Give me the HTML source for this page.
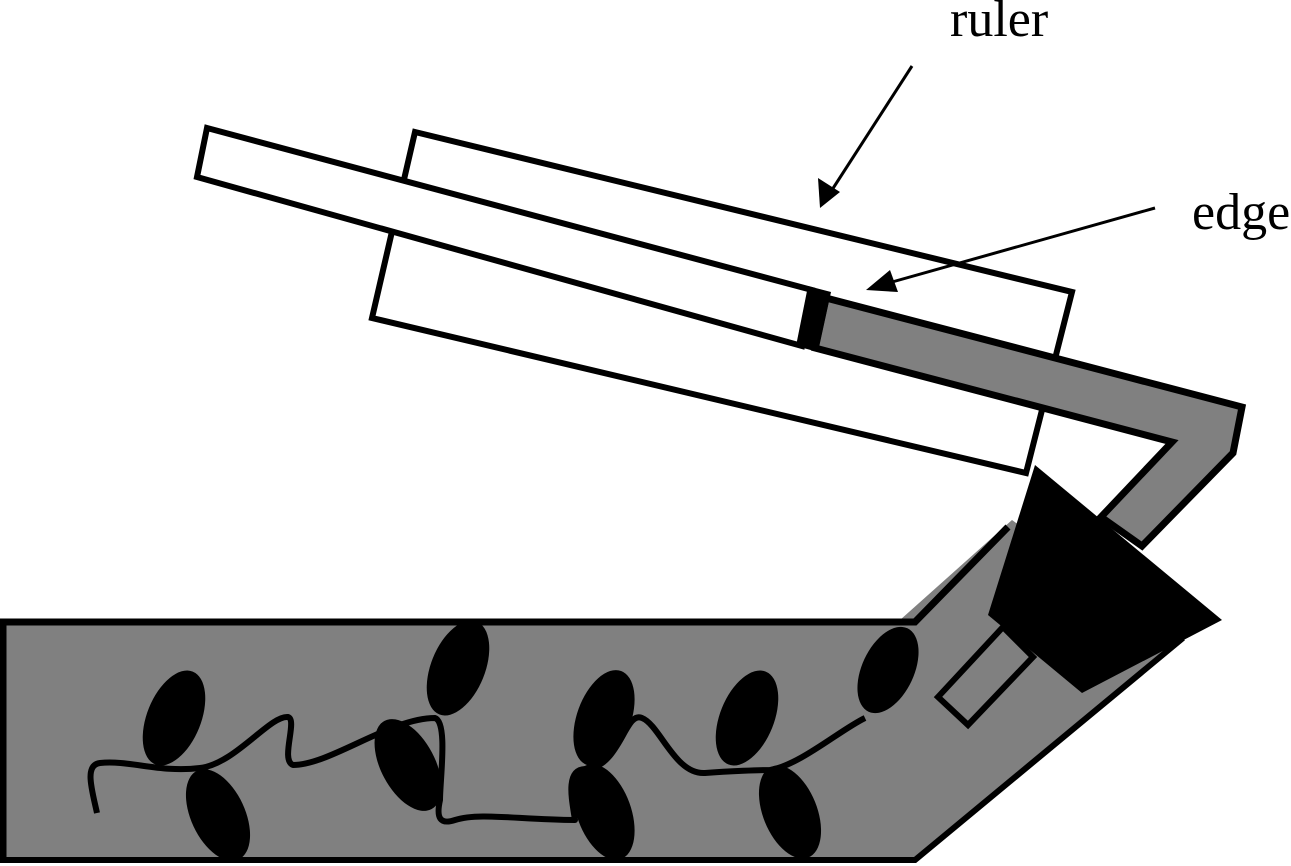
<!DOCTYPE html>
<html><head><meta charset="utf-8"><style>html,body{margin:0;padding:0;background:#fff}svg{display:block}</style></head>
<body>
<svg width="1291" height="866" viewBox="0 0 1291 866" xmlns="http://www.w3.org/2000/svg">
<polygon points="0,620 900,620 1012,520 1180,640 915,862 0,862" fill="#808080"/>
<polyline points="3,862 3,622 915,622 1008,527" fill="none" stroke="#000" stroke-width="7"/>
<polyline points="0,860 915,860 1183,638" fill="none" stroke="#000" stroke-width="6"/>
<polygon points="415,132 1072,292 1026,473 372,318" fill="#fff" stroke="#000" stroke-width="6"/>
<polygon points="207,128 812,290 802,346 197,177" fill="#fff" stroke="#000" stroke-width="6"/>
<polygon points="826,298 1242,407 1233,453 1142,546 1101,517 1172,442 815,348" fill="#808080" stroke="#000" stroke-width="7"/>
<polygon points="808,286 831,292 818,352 796,346" fill="#000"/>
<polygon points="938,697 1003,627 1033,657 968,725" fill="#808080" stroke="#000" stroke-width="6"/>
<polygon points="1035,465 1222,620 1082,693 988,615" fill="#000"/>
<g fill="#000">
<ellipse cx="174" cy="718" rx="27" ry="50" transform="rotate(22 174 718)"/>
<ellipse cx="218" cy="815" rx="27" ry="49" transform="rotate(-25 218 815)"/>
<ellipse cx="458" cy="668" rx="27" ry="50" transform="rotate(22 458 668)"/>
<ellipse cx="408" cy="765" rx="27" ry="50" transform="rotate(-28 408 765)"/>
<ellipse cx="604" cy="718" rx="27" ry="50" transform="rotate(20 604 718)"/>
<ellipse cx="604" cy="812" rx="27" ry="50" transform="rotate(-20 604 812)"/>
<ellipse cx="747" cy="718" rx="27" ry="50" transform="rotate(22 747 718)"/>
<ellipse cx="790" cy="812" rx="27" ry="49" transform="rotate(-22 790 812)"/>
<ellipse cx="888" cy="670" rx="26" ry="46" transform="rotate(25 888 670)"/>
</g>
<path d="M97,813 C92,790 84,765 100,763 C130,760 160,773 200,768 C235,764 270,715 288,717 C298,720 280,760 293,765 C330,765 390,718 435,718 C448,722 440,780 440,800 C436,818 440,825 455,820 C480,812 520,820 575,820 C572,800 565,770 585,769 C620,768 625,710 642,718 C660,725 675,775 705,773 C730,771 760,770 770,770 C800,765 840,730 865,718" fill="none" stroke="#000" stroke-width="6" stroke-linejoin="round"/>
<line x1="912" y1="66" x2="830" y2="193" stroke="#000" stroke-width="3"/>
<polygon points="820,208 818,178 840,192" fill="#000"/>
<line x1="1155" y1="208" x2="885" y2="284" stroke="#000" stroke-width="3"/>
<polygon points="866,290 890,270 898,292" fill="#000"/>
<text x="950" y="36" font-family="Liberation Serif, serif" font-size="52" fill="#000">ruler</text>
<text x="1192" y="229" font-family="Liberation Serif, serif" font-size="52" fill="#000">edge</text>
</svg>
</body></html>
